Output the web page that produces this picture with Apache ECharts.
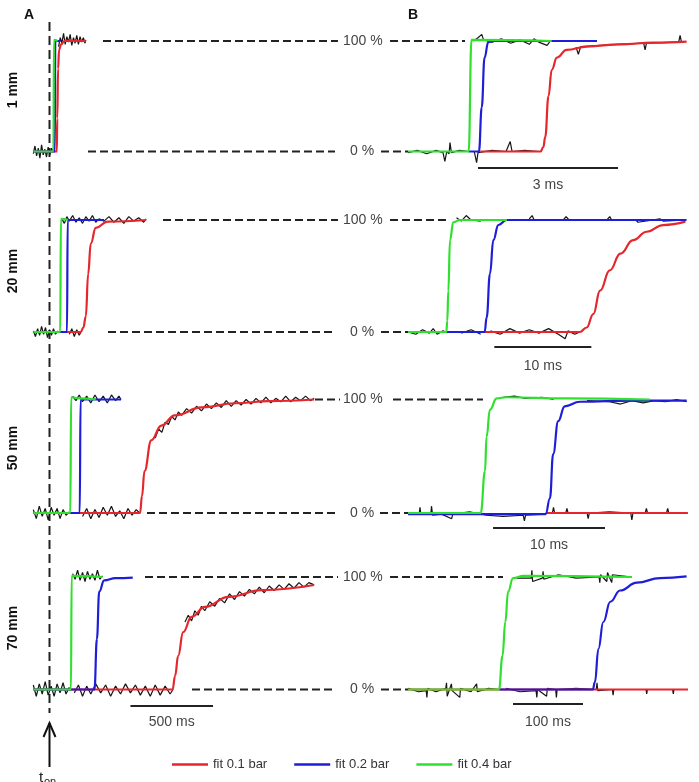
<!DOCTYPE html>
<html>
<head>
<meta charset="utf-8">
<script src="https://cdn.jsdelivr.net/npm/echarts@6/dist/echarts.min.js"></script>
<style>
html, body { margin: 0; padding: 0; background: #fff; }
#chart { width: 699px; height: 782px; }
</style>
</head>
<body>
<div id="chart"></div>
<script>
// ---- texts ----
var rowLabels = ['1 mm', '20 mm', '50 mm', '70 mm'];
var colLabels = ['A', 'B'];
var pctLabels = ['100 %', '0 %'];
var fitNames = ['fit 0.1 bar', 'fit 0.2 bar', 'fit 0.4 bar'];
// scale bars: [panel, t start, t end, label]
var scaleBars = [
    [3, 490, 990, '500 ms'],
    [4, 1.5, 4.5, '3 ms'],
    [5, 8.9, 18.9, '10 ms'],
    [6, 7.6, 17.6, '10 ms'],
    [7, 150, 250, '100 ms']
];

// ---- column A (time in ms from t_on) ----
var redA1 = [[-98,0],[44,0],[47,30],[52,75],[58,92],[70,97],[90,100],[220,100]];
var blueA1 = [[-98,0],[32,0],[35,100],[67,100]];
var greenA1 = [[-98,0],[24,0],[27,101],[49,100]];
var rawA1 = [
    [[-98,-2],[-88,5],[-78,-4],[-68,3],[-58,-6],[-48,6],[-38,-3],[-28,2],[-18,-5],[-8,4],[2,-3],[12,3],[22,0]],
    [[55,95],[65,103],[75,98],[85,107],[95,97],[105,104],[115,99],[125,106],[135,96],[145,103],[155,98],[165,105],[175,97],[185,104],[195,99],[205,103],[215,98],[220,101]]
];

var redA2 = [[-98,0],[189,0],[205,4],[220,14],[234,52],[250,79],[280,93],[352,98.5],[585,100]];
var blueA2 = [[-98,0],[106,0],[110,100],[330,100]];
var greenA2 = [[-98,0],[65,0],[69,101],[110,100]];
var rawA2 = [
    [[-98,1],[-85,-4],[-72,3],[-60,-3],[-48,5],[-36,-2],[-24,4],[-12,-5],[0,2],[12,-3],[24,3],[36,-2],[50,1]],
    [[120,-2],[135,3],[150,-4],[165,2],[180,-3],[190,0]],
    [[75,101],[90,97],[105,103],[120,99],[140,104],[160,98],[180,102],[200,97],[220,103],[240,99],[260,104],[280,98],[300,101],[330,99],[360,103],[390,98],[420,102],[450,97],[480,103],[510,99],[540,102],[570,98],[585,101]]
];

var redA3 = [[-98,0],[548,0],[560,15],[575,37],[616,64],[677,77],[758,86],[921,93],[1124,96.7],[1327,98.5],[1602,100]];
var blueA3 = [[-98,0],[183,0],[188,100],[433,100]];
var greenA3 = [[-98,0],[126,0],[131,102],[180,101],[280,100]];
var rawA3 = [
    [[-98,3],[-80,-5],[-62,6],[-44,-3],[-26,4],[-8,-6],[10,5],[28,-2],[46,4],[64,-5],[82,3],[100,-2],[120,1]],
    [[200,-3],[225,4],[250,-5],[275,3],[300,-4],[325,5],[350,-2],[375,6],[400,-3],[425,2],[450,-5],[475,4],[500,-2],[525,3],[545,0]],
    [[140,103],[160,99],[180,104],[200,98],[225,103],[250,97],[275,104],[300,98],[325,103],[350,97],[375,104],[400,99],[420,103],[433,100]],
    [[640,66],[660,74],[680,71],[700,80],[720,78],[740,85],[760,82],[780,89],[800,86],[830,92],[860,88],[890,94],[920,90],[950,96],[980,92],[1010,97],[1040,93],[1070,99],[1100,94],[1130,99],[1160,95],[1190,100],[1220,96],[1250,101],[1280,97],[1310,102],[1340,97],[1370,101],[1400,98],[1430,103],[1460,98],[1490,102],[1520,99],[1550,103],[1580,99],[1602,101]]
];

var redA4 = [[-98,0],[745,0],[760,12],[779,30],[809,51],[860,64.6],[941,73.5],[1084,82.4],[1287,88.4],[1602,92.9]];
var blueA4 = [[-98,0],[272,0],[287,45],[301,87],[331,97],[400,99],[504,99.5]];
var greenA4 = [[-98,0],[130,0],[134,101],[321,100]];
var rawA4 = [
    [[-98,4],[-80,-6],[-62,5],[-44,-4],[-26,7],[-8,-5],[10,3],[28,-6],[46,5],[64,-3],[82,6],[100,-4],[120,2]],
    [[150,-3],[175,4],[200,-6],[225,3],[250,-4],[280,5],[310,-3],[340,4],[370,-6],[400,3],[430,-4],[460,5],[490,-3],[520,4],[550,-5],[580,3],[610,-6],[640,4],[670,-5],[700,3],[730,-4],[748,0]],
    [[140,103],[155,98],[170,106],[185,97],[200,104],[215,96],[230,105],[245,98],[260,103],[275,97],[290,106],[305,98],[321,101]],
    [[820,60],[840,66],[860,61],[880,70],[900,66],[920,74],[940,70],[970,78],[1000,74],[1030,81],[1060,77],[1090,85],[1120,80],[1150,87],[1180,83],[1210,89],[1240,85],[1270,91],[1300,86],[1330,92],[1360,88],[1390,93],[1420,89],[1450,94],[1480,90],[1510,95],[1540,91],[1570,95],[1602,93]]
];

// ---- column B (time in ms from trace start) ----
var redB1 = [[1.55,0],[2.84,0],[2.90,4],[2.94,13],[3.01,50],[3.08,74],[3.19,85],[3.40,92],[3.83,95],[4.54,97],[5.26,98.5],[5.97,99.4]];
var blueB1 = [[1.30,0],[1.52,0],[1.58,40],[1.64,85],[1.72,99],[1.85,100],[4.05,100]];
var greenB1 = [[0,0],[1.30,0],[1.36,101],[3.08,100]];
var rawB1 = [
    [[0,-1],[0.2,1],[0.4,-2],[0.6,1],[0.75,-1],[0.79,-9],[0.83,0],[0.88,-2],[0.90,8],[0.93,-1],[1.1,1],[1.3,0]],
    [[1.42,0],[1.47,-10],[1.5,-1],[1.8,1],[2.1,0],[2.19,9],[2.23,0],[2.5,1],[2.8,0]],
    [[1.40,100],[1.5,103],[1.58,106],[1.62,101],[1.8,99],[2.0,102],[2.2,98],[2.4,101],[2.6,97],[2.7,102],[2.8,99],[2.98,96],[3.05,100]],
    [[3.6,94.5],[3.65,88],[3.7,95],[4.5,97],[5.05,98],[5.08,92],[5.11,98],[5.8,99],[5.83,105],[5.86,99]]
];

var redB2 = [[7.9,0],[17.7,0],[18.42,4],[19.1,16],[19.8,37],[20.8,55],[21.9,70],[23.2,82],[24.6,89.5],[26.3,95.5],[28.6,98.5]];
var blueB2 = [[3.95,0],[7.9,0],[8.11,13],[8.45,52],[8.8,82],[9.31,95.5],[10.17,100],[28.7,100]];
var greenB2 = [[0,0],[3.95,0],[4.05,10],[4.16,37],[4.33,82],[4.67,98],[5.36,100],[10.2,100]];
var rawB2 = [
    [[0,0],[0.8,-2],[1.5,2],[2.2,-1],[2.6,3],[3.0,-2],[3.6,1],[3.9,0]],
    [[5.5,-1],[6.5,2],[7.5,-2]],
    [[8.5,1],[9.5,-2],[10.5,3],[11.5,-1],[12.5,2],[13.5,-1],[14.5,3],[15.5,-2],[16.2,-6],[16.5,1],[17.2,-2],[17.7,0]],
    [[5.0,102],[5.5,99],[6.0,104],[6.5,100],[7.5,99]],
    [[12.5,101],[12.8,104],[13,100],[16,100],[16.3,103],[16.6,100],[20.5,100],[20.8,103],[21.0,100],[23.5,100],[23.7,98],[26,101],[26.3,99],[28.7,100]]
];

var redB3 = [[12.3,0],[25,0]];
var blueB3 = [[0,-1],[12.3,-1],[12.68,13],[12.97,52],[13.42,81],[14.0,94],[15.36,98],[20,99],[24.9,99]];
var greenB3 = [[0,0],[6.5,0],[6.88,37],[7.02,67],[7.32,91],[7.92,101],[8.8,102],[14,101],[21.6,100]];
var rawB3 = [
    [[0,0],[1.0,-1],[1.07,5],[1.15,-1],[2.05,0],[2.1,6],[2.2,-2],[3.0,-1],[3.9,-5],[4.0,-1],[5.5,1],[7,-2],[8.5,-3],[10.3,-2],[10.4,-7],[10.5,-2],[12.3,-1]],
    [[12.9,0],[13.0,5],[13.1,0],[14.1,0],[14.2,4],[14.3,0],[16,0],[16.1,-5],[16.2,0],[18,1],[19.9,0],[20.0,-6],[20.1,0],[21.2,0],[21.3,4],[21.4,0],[23.1,0],[23.2,4],[23.3,0],[25,0]],
    [[8.5,102],[9.5,103],[10.5,101],[12,102],[13,100]],
    [[16,99],[18,98],[19,96],[20,99],[21,97],[22,99],[23,98],[24,100],[24.9,98]]
];

var redB4 = [[0,0],[400,0]];
var blueB4 = [[130,0],[264,0],[267,6.5],[272,36],[279,60],[289,78],[303,88],[327,95],[360,99],[398,100.5]];
var greenB4 = [[0,0],[130,0],[135,30],[139,60],[143,87],[150,99],[165,101],[320,100]];
var rawB4 = [
    [[0,1],[15,-2],[26,-1],[27,-7],[28,1],[40,-2],[54,1],[55,6],[56,-6],[62,5],[63,-1],[74,-7],[75,1],[90,-2],[98,5],[99,-2],[115,1],[128,0]],
    [[140,1],[160,-2],[183,-1],[184,-7],[185,0],[198,-6],[199,1],[211,0],[212,-7],[213,0],[240,1],[269,0],[270,6],[271,-1],[292,0],[293,-5],[294,0],[340,0],[341,-4],[342,0],[378,0],[379,-4],[380,0],[400,0]],
    [[155,99],[176,99],[177,106],[178,96],[192,99],[193,105],[194,98],[215,102],[240,99],[273,100],[274,95],[275,102],[284,96],[285,104],[291,95],[292,102],[320,100]]
];

// ---- layout ----
var rowTop = [41, 220, 399.5, 577];
var rowBottom = [151.5, 332, 513, 689.5];
var colA = { x0: 49.5, scale: 0.1652, min: -120, max: 1800 };
var colB = { x0: 408, scale: [46.67, 9.7, 11.2, 0.7], min: [-0.3, -1, -1, -10], max: [6.2, 30, 26, 410] };
var fitColors = ['#e5262b', '#1e1ed8', '#2fe02f'];
var inkColor = '#222';
var textFont = '"Liberation Sans", Arial, sans-serif';

var panels = [
    { red: redA1, blue: blueA1, green: greenA1, raw: rawA1 },
    { red: redA2, blue: blueA2, green: greenA2, raw: rawA2 },
    { red: redA3, blue: blueA3, green: greenA3, raw: rawA3 },
    { red: redA4, blue: blueA4, green: greenA4, raw: rawA4 },
    { red: redB1, blue: blueB1, green: greenB1, raw: rawB1 },
    { red: redB2, blue: blueB2, green: greenB2, raw: rawB2 },
    { red: redB3, blue: blueB3, green: greenB3, raw: rawB3 },
    { red: redB4, blue: blueB4, green: greenB4, raw: rawB4 }
];

var grids = [], xAxes = [], yAxes = [], series = [];

panels.forEach(function (p, i) {
    var row = i % 4, isA = i < 4;
    var x0 = isA ? colA.x0 : colB.x0;
    var s = isA ? colA.scale : colB.scale[row];
    var mn = isA ? colA.min : colB.min[row];
    var mx = isA ? colA.max : colB.max[row];
    grids.push({
        left: x0 + mn * s,
        width: (mx - mn) * s,
        top: rowTop[row],
        height: rowBottom[row] - rowTop[row]
    });
    xAxes.push({ type: 'value', gridIndex: i, min: mn, max: mx, show: false });
    yAxes.push({ type: 'value', gridIndex: i, min: 0, max: 100, show: false });

    // noisy recorded traces (black)
    p.raw.forEach(function (seg) {
        series.push({
            type: 'line', xAxisIndex: i, yAxisIndex: i, data: seg,
            symbol: 'none', clip: false, silent: true, z: 2,
            lineStyle: { color: '#151515', width: 1.2 }
        });
    });
    // fits
    [p.red, p.blue, p.green].forEach(function (d, k) {
        series.push({
            name: fitNames[k],
            type: 'line', xAxisIndex: i, yAxisIndex: i, data: d,
            symbol: 'none', clip: false, z: 3,
            smooth: 0.45, smoothMonotone: 'x',
            itemStyle: { color: fitColors[k] },
            lineStyle: { color: fitColors[k], width: 2.2 }
        });
    });
});

var chart = echarts.init(document.getElementById('chart'));
chart.setOption({
    animation: false,
    backgroundColor: '#fff',
    grid: grids,
    xAxis: xAxes,
    yAxis: yAxes,
    legend: {
        data: fitNames,
        left: 167, top: 753,
        icon: 'rect', itemWidth: 36, itemHeight: 2.5, itemGap: 27,
        textStyle: { fontSize: 13, color: '#333', fontFamily: textFont }
    },
    series: series
});

// ---- annotations placed through the panels' scales ----
function px(i, t, v) { return chart.convertToPixel({ gridIndex: i }, [t, v]); }
function hline(x1, x2, y, dash, w) {
    return { type: 'line', silent: true, z: 10,
        shape: { x1: x1, y1: y, x2: x2, y2: y },
        style: { stroke: inkColor, lineWidth: w || 2, lineDash: dash || null } };
}
function label(txt, x, y, opts) {
    opts = opts || {};
    return { type: 'text', silent: true, z: 10, x: x, y: y, rotation: opts.rot || 0,
        style: { text: txt, fill: opts.color || '#444',
            font: (opts.weight || 'normal') + ' ' + (opts.size || 14) + 'px ' + textFont,
            align: opts.align || 'left', verticalAlign: 'middle',
            textAlign: opts.align || 'left', textVerticalAlign: 'middle' } };
}

var guideTop = [[[103, 338], [390, 465]], [[163, 338], [390, 450]], [[315, 340], [393, 483]], [[145, 338], [390, 503]]];
var guideBottom = [[[88, 335], [381, 408]], [[108, 335], [381, 408]], [[147, 335], [380, 408]], [[192, 335], [381, 408]]];
var rowLabelY = [90, 271, 448, 628];
var barY = { 3: [706, 722], 4: [168, 185], 5: [347, 366], 6: [528, 545], 7: [704, 722] };

var g = [];
// t_on marker
g.push({ type: 'line', silent: true, shape: { x1: 49.5, y1: 22, x2: 49.5, y2: 713 },
    style: { stroke: inkColor, lineWidth: 2, lineDash: [9, 5] } });
g.push({ type: 'line', silent: true, shape: { x1: 49.5, y1: 767, x2: 49.5, y2: 723 }, style: { stroke: '#111', lineWidth: 2 } });
g.push({ type: 'polyline', silent: true, shape: { points: [[43.5, 737], [49.5, 723], [55.5, 737]] }, style: { stroke: '#111', lineWidth: 2, fill: null } });
g.push(label('t', 39, 778, { size: 15, color: '#222' }));
g.push(label('on', 44, 782, { size: 11, color: '#222' }));

g.push(label(colLabels[0], 29, 15, { weight: 'bold', color: '#111', align: 'center' }));
g.push(label(colLabels[1], 413, 15, { weight: 'bold', color: '#111', align: 'center' }));

for (var r = 0; r < 4; r++) {
    var y100 = px(r, 0, 100)[1], y0 = px(r, 0, 0)[1];
    guideTop[r].forEach(function (seg) { g.push(hline(seg[0], seg[1], y100, [8, 4])); });
    guideBottom[r].forEach(function (seg) { g.push(hline(seg[0], seg[1], y0, [8, 4])); });
    g.push(label(pctLabels[0], 343, y100));
    g.push(label(pctLabels[1], 350, y0));
    g.push(label(rowLabels[r], 13, rowLabelY[r], { rot: Math.PI / 2, weight: 'bold', color: '#111', align: 'center' }));
}

scaleBars.forEach(function (b) {
    var a = px(b[0], b[1], 0)[0], c = px(b[0], b[2], 0)[0];
    var ys = barY[b[0]];
    g.push(hline(a, c, ys[0], null, 2));
    g.push(label(b[3], (a + c) / 2, ys[1], { align: 'center' }));
});

chart.setOption({ graphic: g });
</script>
</body>
</html>
